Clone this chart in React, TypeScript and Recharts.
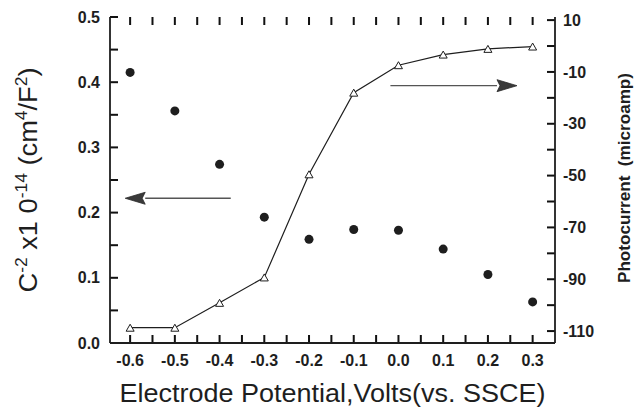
import React from "react";
import {
  ComposedChart,
  Line,
  Scatter,
  XAxis,
  YAxis,
  ReferenceLine,
  Label,
} from "recharts";

// values
const potentials = [-0.6, -0.5, -0.4, -0.3, -0.2, -0.1, 0.0, 0.1, 0.2, 0.3];
const capacitance = [0.415, 0.356, 0.274, 0.193, 0.159, 0.174, 0.173, 0.144, 0.105, 0.063];
const photocurrent = [-108.7, -108.7, -99.1, -89.3, -49.5, -18.0, -7.4, -3.3, -1.1, -0.2];

const xTicks = [-0.6, -0.55, -0.5, -0.45, -0.4, -0.35, -0.3, -0.25, -0.2, -0.15, -0.1, -0.05, 0, 0.05, 0.1, 0.15, 0.2, 0.25, 0.3];
const leftTicks = [0, 0.05, 0.1, 0.15, 0.2, 0.25, 0.3, 0.35, 0.4, 0.45, 0.5];
const rightTicks = [10, 0, -10, -20, -30, -40, -50, -60, -70, -80, -90, -100, -110];
const rightLabels = [10, -10, -30, -50, -70, -90, -110];

// arrow annotations (data coordinates: tail -> tip)
const leftArrow = [
  { x: -0.375, y: 0.222 },
  { x: -0.611, y: 0.222 },
];
const rightArrow = [
  { x: -0.018, y: -15.3 },
  { x: 0.265, y: -15.3 },
];

const data = potentials.map((x, i) => ({
  x,
  cap: capacitance[i],
  pc: photocurrent[i],
}));

const INK = "#1e1e1e";
const TICK_INK = "#111";
const FONT = "'Liberation Sans', Arial, Helvetica, sans-serif";
const TICK_LEN = 8;
const TICK_W = 2;
const X_MARGIN = 17;
const L_MARGIN = 10;
const R_MARGIN = 8;

const isMajor = (v: number) => Math.abs(v * 10 - Math.round(v * 10)) < 1e-6;

// tick marks as small filled bars pointing into the plot
const vMark = (x: number, y: number, dir: number) => (
  <rect x={x - TICK_W / 2} y={dir > 0 ? y : y - TICK_LEN} width={TICK_W} height={TICK_LEN} fill={TICK_INK} />
);
const hMark = (x: number, y: number, dir: number) => (
  <rect x={dir > 0 ? x : x - TICK_LEN} y={y - TICK_W / 2} width={TICK_LEN} height={TICK_W} fill={TICK_INK} />
);

function BottomTick({ x, y, payload }: any) {
  const v = payload.value;
  if (!isMajor(v)) return null;
  return (
    <text x={x} y={y} dy="0.35em" textAnchor="middle" fill={INK} fontSize={16} fontWeight="bold" fontFamily={FONT}>
      {v.toFixed(1)}
    </text>
  );
}

function LeftTick({ x, y, payload }: any) {
  const v = payload.value;
  if (!isMajor(v)) return null;
  return (
    <text x={x} y={y} dy="0.35em" textAnchor="end" fill={INK} fontSize={16} fontWeight="bold" fontFamily={FONT}>
      {v.toFixed(1)}
    </text>
  );
}

function RightTick({ x, y, payload }: any) {
  const v = payload.value;
  if (!rightLabels.includes(v)) return null;
  return (
    <text x={x} y={y} dy="0.35em" textAnchor="start" fill={INK} fontSize={16} fontWeight="bold" fontFamily={FONT}>
      {v}
    </text>
  );
}

function XMarks(props: any) {
  const { x1, y1, y2 } = props;
  return (
    <g>
      {vMark(x1, Math.min(y1, y2), 1)}
      {vMark(x1, Math.max(y1, y2), -1)}
    </g>
  );
}

function LeftMark(props: any) {
  const { x1, x2, y1 } = props;
  return hMark(Math.min(x1, x2), y1, 1);
}

function RightMark(props: any) {
  const { x1, x2, y1 } = props;
  return hMark(Math.max(x1, x2), y1, -1);
}

function Dot({ cx, cy }: any) {
  if (cx == null || cy == null) return null;
  return <circle cx={cx} cy={cy} r={4.5} fill={INK} />;
}

function Triangle({ cx, cy }: any) {
  if (cx == null || cy == null) return null;
  const w = 4;
  const h = 7;
  return (
    <polygon
      points={`${cx},${cy - h / 2} ${cx + w},${cy + h / 2} ${cx - w},${cy + h / 2}`}
      fill="#fff"
      stroke={INK}
      strokeWidth={1}
    />
  );
}

function Arrow(props: any) {
  const { x1, y1, x2, y2 } = props;
  const dir = x2 > x1 ? 1 : -1;
  const headLen = 20;
  const half = 6;
  const bx = x2 - dir * headLen;
  return (
    <g>
      <line x1={x1} y1={y1} x2={bx} y2={y2} stroke="#555" strokeWidth={1.3} />
      <polygon
        points={`${x2},${y2} ${bx},${y2 - half} ${bx + dir * 3},${y2} ${bx},${y2 + half}`}
        fill="#3a3a3a"
        stroke="#2a2a2a"
        strokeWidth={0.8}
      />
    </g>
  );
}

function LeftTitle({ viewBox }: any) {
  const cx = 37;
  const cy = viewBox.y + viewBox.height / 2;
  return (
    <text
      x={cx}
      y={cy}
      transform={`rotate(-90 ${cx} ${cy})`}
      textAnchor="middle"
      fill={INK}
      fontSize={25}
      fontFamily={FONT}
      textLength={225}
      lengthAdjust="spacingAndGlyphs"
    >
      C
      <tspan fontSize={16} dy={-10}>-2</tspan>
      <tspan dy={10}> x1 0</tspan>
      <tspan fontSize={16} dy={-10}>-14</tspan>
      <tspan dy={10}> (cm</tspan>
      <tspan fontSize={16} dy={-10}>4</tspan>
      <tspan dy={10}>/F</tspan>
      <tspan fontSize={16} dy={-10}>2</tspan>
      <tspan dy={10}>)</tspan>
    </text>
  );
}

function RightTitle({ viewBox }: any) {
  const cx = viewBox.x + 75;
  const cy = viewBox.y + viewBox.height / 2 - 2;
  return (
    <text
      x={cx}
      y={cy}
      transform={`rotate(-90 ${cx} ${cy})`}
      textAnchor="middle"
      fill={INK}
      fontSize={16}
      fontWeight="bold"
      fontFamily={FONT}
      textLength={210}
      lengthAdjust="spacingAndGlyphs"
    >
      {"Photocurrent\u00a0\u00a0(microamp)"}
    </text>
  );
}

function BottomTitle({ viewBox }: any) {
  const cx = viewBox.x + viewBox.width / 2;
  const cy = viewBox.y + 59;
  return (
    <text
      x={cx}
      y={cy}
      textAnchor="middle"
      fill={INK}
      fontSize={26}
      fontFamily={FONT}
      textLength={426}
      lengthAdjust="spacingAndGlyphs"
    >
      Electrode Potential,Volts(vs. SSCE)
    </text>
  );
}

export default function App() {
  return (
    <div style={{ position: "absolute", left: 0, top: 0, width: 635, height: 407, background: "#fff" }}>
      <ComposedChart width={635} height={407} data={data} margin={{ top: 17, right: 0, bottom: 0, left: 0 }}>
        <XAxis
          dataKey="x"
          type="number"
          domain={[-0.645, 0.35]}
          ticks={xTicks}
          interval={0}
          height={64}
          tickSize={0}
          tickMargin={X_MARGIN}
          tick={<BottomTick />}
          axisLine={{ stroke: INK, strokeWidth: 1.8 }}
          tickLine={false}
        >
          <Label content={<BottomTitle />} />
        </XAxis>
        <XAxis
          xAxisId="top"
          orientation="top"
          dataKey="x"
          type="number"
          domain={[-0.645, 0.35]}
          ticks={xTicks}
          height={0}
          tick={false}
          axisLine={{ stroke: INK, strokeWidth: 1.8 }}
          tickLine={false}
        />
        <YAxis
          yAxisId="left"
          orientation="left"
          type="number"
          domain={[0, 0.5]}
          ticks={leftTicks}
          interval={0}
          width={110}
          tickSize={0}
          tickMargin={L_MARGIN}
          tick={<LeftTick />}
          axisLine={{ stroke: INK, strokeWidth: 1.8 }}
          tickLine={false}
        >
          <Label content={<LeftTitle />} />
        </YAxis>
        <YAxis
          yAxisId="right"
          orientation="right"
          type="number"
          domain={[-114.6, 11.2]}
          ticks={rightTicks}
          interval={0}
          width={80}
          tickSize={0}
          tickMargin={R_MARGIN}
          tick={<RightTick />}
          axisLine={{ stroke: INK, strokeWidth: 1.8 }}
          tickLine={false}
        >
          <Label content={<RightTitle />} />
        </YAxis>
        <ReferenceLine yAxisId="left" segment={leftArrow} shape={<Arrow />} ifOverflow="visible" />
        <ReferenceLine yAxisId="right" segment={rightArrow} shape={<Arrow />} ifOverflow="visible" />
        <Line
          yAxisId="right"
          dataKey="pc"
          type="linear"
          stroke={INK}
          strokeWidth={1.2}
          dot={<Triangle />}
          activeDot={false}
          isAnimationActive={false}
        />
        <Scatter yAxisId="left" dataKey="cap" shape={<Dot />} isAnimationActive={false} />
        {xTicks.map((t) => (
          <ReferenceLine key={`x${t}`} x={t} yAxisId="left" ifOverflow="visible" shape={(p: any) => <XMarks {...p} />} />
        ))}
        {leftTicks.map((t) => (
          <ReferenceLine key={`l${t}`} y={t} yAxisId="left" ifOverflow="visible" shape={(p: any) => <LeftMark {...p} />} />
        ))}
        {rightTicks.map((t) => (
          <ReferenceLine key={`r${t}`} y={t} yAxisId="right" ifOverflow="visible" shape={(p: any) => <RightMark {...p} />} />
        ))}
      </ComposedChart>
    </div>
  );
}
